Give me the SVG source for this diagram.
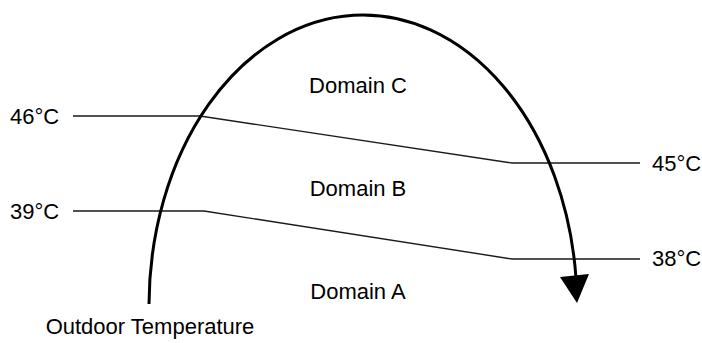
<svg xmlns="http://www.w3.org/2000/svg" width="702" height="343" viewBox="0 0 702 343">
<style>
text{font-family:"Liberation Sans",Arial,sans-serif;font-size:22px;fill:#000}
.b{fill:none;stroke:#1a1a1a;stroke-width:1.4}
.arc{fill:none;stroke:#000;stroke-width:3}
</style>
<rect width="702" height="343" fill="#fff"/>
<g id="connectors">
<polyline class="b" points="73,116 200,116 512,163 640,163"/>
<polyline class="b" points="73,211 204,211 512,259 640,259"/>
<path class="arc" d="M149,304 A214,291 0 0 1 576,278"/>
<polygon points="560,277 589,274 577,303" fill="#000"/>
</g>
<g id="label-46"><text x="10" y="124">46°C</text></g>
<g id="label-39"><text x="10" y="219">39°C</text></g>
<g id="label-45"><text x="652" y="171">45°C</text></g>
<g id="label-38"><text x="652" y="266">38°C</text></g>
<g id="domain-c"><text x="358" y="93" text-anchor="middle">Domain C</text></g>
<g id="domain-b"><text x="358" y="196" text-anchor="middle">Domain B</text></g>
<g id="domain-a"><text x="358" y="299" text-anchor="middle">Domain A</text></g>
<g id="outdoor"><text x="150" y="334" text-anchor="middle">Outdoor Temperature</text></g>
</svg>
